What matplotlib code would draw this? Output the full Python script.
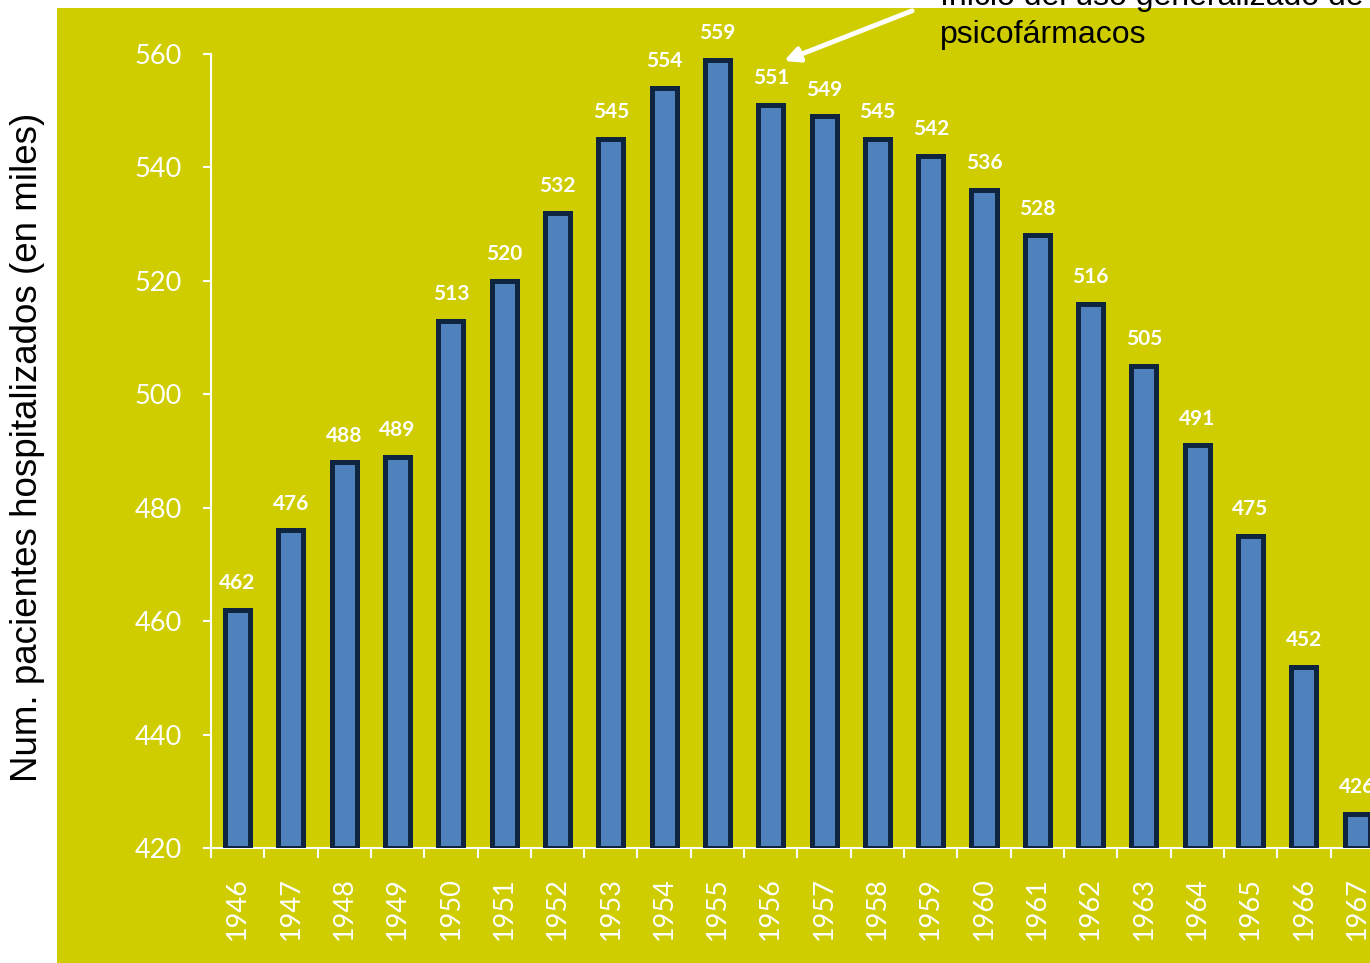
import numpy as np
import matplotlib
matplotlib.use('Agg')
import matplotlib.pyplot as plt

# data
years = [str(y) for y in range(1946, 1968)]
patients = [462, 476, 488, 489, 513, 520, 532, 545, 554, 559, 551,
            549, 545, 542, 536, 528, 516, 505, 491, 475, 452, 426]
yticks = [420, 440, 460, 480, 500, 520, 540, 560]

panel = '#cfcd00'
fill = '#4f81bd'
edge = '#0f243e'

fig = plt.figure(figsize=[13.7, 9.63], dpi=100)
fig.patch.set_facecolor('white')

# yellow panel behind the plot
bg = fig.add_axes([57/1370, 0, 1-57/1370, 1-8/963], zorder=-1)
bg.set_facecolor(panel)
bg.set_xticks([])
bg.set_yticks([])
for s in bg.spines.values():
    s.set_visible(False)

ax = fig.add_axes([211/1370, 1-848/963, 1-211/1370, (848-54)/963])
ax.set_facecolor('none')
x = np.arange(len(years))
ax.bar(x, [p-420 for p in patients], bottom=420, width=0.47, color=fill,
       edgecolor=edge, linewidth=3.6, zorder=3)
for xi, p in zip(x, patients):
    ax.annotate(str(p), (xi, p), xytext=(0, 12), textcoords='offset points',
                ha='center', va='bottom', color='white', fontsize=15,
                fontweight='bold', family='Lato', annotation_clip=False)

ax.set_xlim(-0.5, 21.24)
ax.set_ylim(420, 560)
ax.set_yticks(yticks)
ax.set_yticklabels([str(t) for t in yticks], family='Lato', fontsize=19.5, color='white')
ax.set_xticks(x)
ax.set_xticklabels(years, rotation=90, family='Lato', fontsize=19.5, color='white')
ax.set_xticks(np.arange(-0.5, 21.5, 1), minor=True)
ax.tick_params(axis='x', which='major', length=0, pad=21)
ax.tick_params(axis='x', which='minor', length=7, width=1.5, color='white', direction='out')
ax.tick_params(axis='y', length=6, width=1.5, color='white', pad=15)
for s in ['top', 'right']:
    ax.spines[s].set_visible(False)
for s in ['left', 'bottom']:
    ax.spines[s].set_color('white')
    ax.spines[s].set_linewidth(1.5)

fig.text(28/1370, 1-447/963, 'Num. pacientes hospitalizados (en miles)', rotation=90,
         ha='center', va='center', fontsize=26.5, family='Liberation Sans', color='black')

# annotation
fig.text(940/1370, 1-5/963, 'Inicio del uso generalizado de', ha='left', va='baseline',
         fontsize=23, family='Liberation Sans', color='black')
fig.text(940/1370, 1-43/963, 'psicofármacos', ha='left', va='baseline',
         fontsize=23, family='Liberation Sans', color='black')
ax.annotate('', xy=(10.2, 558.6), xytext=(12.7, 567.8), annotation_clip=False,
            arrowprops=dict(arrowstyle='-|>', color='white', lw=3.5, mutation_scale=22))

fig.savefig('out.png', dpi=100)
